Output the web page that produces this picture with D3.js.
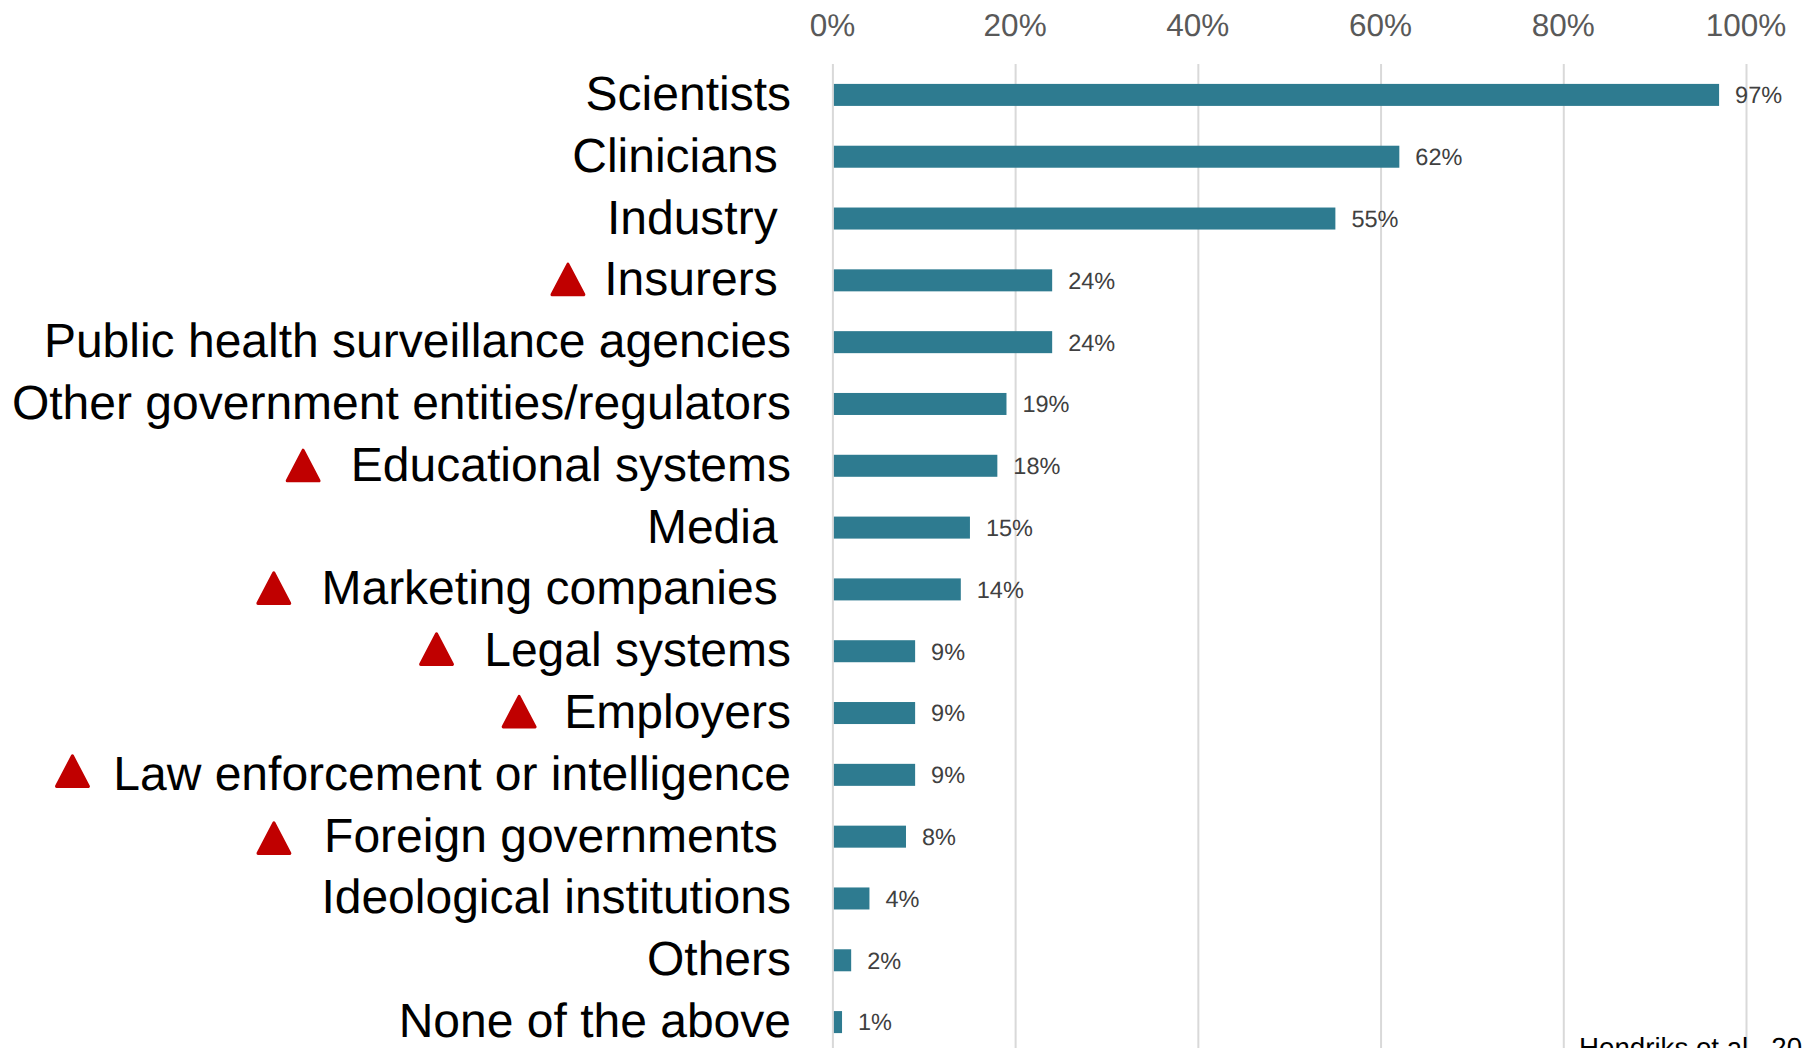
<!DOCTYPE html>
<html>
<head>
<meta charset="utf-8">
<script src="https://d3js.org/d3.v7.min.js"></script>
<style>
  html, body { margin: 0; padding: 0; background: #fff; overflow: hidden; }
  svg { display: block; font-family: "Liberation Sans", Arial, sans-serif; text-rendering: geometricPrecision; }
  text { white-space: pre; }
</style>
</head>
<body>
<svg id="chart" width="1804" height="1048"></svg>
<script>
// Survey answers: who respondents would share data with. Spaces in a label are part of its text.
const categories = [
  "Scientists", "Clinicians ", "Industry ", " Insurers ",
  "Public health surveillance agencies", "Other government entities/regulators",
  "  Educational systems", "Media ", "  Marketing companies ", "  Legal systems",
  "  Employers", " Law enforcement or intelligence", "  Foreign governments ",
  "Ideological institutions", "Others", "None of the above"
];
const shares = [97, 62, 55, 24, 24, 19, 18, 15, 14, 9, 9, 9, 8, 4, 2, 1];
const flagged = [
  " Insurers ", "  Educational systems", "  Marketing companies ", "  Legal systems",
  "  Employers", " Law enforcement or intelligence", "  Foreign governments "
];
const axisTicks = [0, 20, 40, 60, 80, 100];
const sourceNote = "Hendriks et al., 2019";

const svg = d3.select("#chart");

const x = d3.scaleLinear().domain([0, 100]).range([832.9, 1746.5]);
const y = d3.scaleBand().domain(categories).range([64, 1053])
  .paddingInner(0.644).paddingOuter(0.322);

// Vertical gridlines run the full height below the axis labels.
svg.append("g").selectAll("line").data(axisTicks).join("line")
  .attr("x1", d => x(d)).attr("x2", d => x(d))
  .attr("y1", 64).attr("y2", 1048)
  .attr("stroke", "#d9d9d9").attr("stroke-width", 2);

// Percent axis along the top; only its labels are visible.
const axis = svg.append("g").attr("transform", "translate(-1,36)")
  .call(d3.axisTop(x).tickValues(axisTicks).tickFormat(d => d + "%").tickSize(0).tickPadding(0));
axis.select(".domain").remove();
axis.selectAll("text")
  .attr("fill", "#595959").attr("font-size", 31.5)
  .attr("font-family", "'Liberation Sans', Arial, sans-serif")
  .attr("dy", 0).attr("y", 0);

// Bars
svg.append("g").selectAll("rect").data(categories).join("rect")
  .attr("x", x(0) + 1)
  .attr("y", d => y(d))
  .attr("width", (d, i) => x(shares[i]) - x(0) - 1)
  .attr("height", y.bandwidth())
  .attr("fill", "#2e7b90");

// Value labels to the right of each bar
svg.append("g").selectAll("text").data(categories).join("text")
  .attr("x", (d, i) => x(shares[i]) + 16)
  .attr("y", d => y(d) + y.bandwidth() / 2 + 8.4)
  .attr("font-size", 23.5)
  .attr("fill", "#404040")
  .text((d, i) => shares[i] + "%");

// Category labels, right-aligned; leading spaces leave room for the warning triangle
const labels = svg.append("g").selectAll("text").data(categories).join("text")
  .attr("x", 791)
  .attr("y", d => y(d) + y.bandwidth() / 2 + 15)
  .attr("text-anchor", "end")
  .attr("font-size", 48)
  .attr("fill", "#000")
  .text(d => d);

// Red triangles sit just ahead of the flagged labels, slightly taller than equilateral.
// Hand-placed in the slide, so each keeps its own small nudge.
const triangleNudgeX = [-1, 1, 1, 1, 3.5, -5.5, -1.5];
const triangleNudgeY = [4.2, 4.8, 3.7, 2.9, 3.7, 1.3, 6.5];
const triangle = d3.symbol().type(d3.symbolTriangle).size(440);
labels.filter(d => flagged.includes(d)).each(function (d) {
  const start = 791 - this.getComputedTextLength();
  const k = flagged.indexOf(d);
  svg.append("path")
    .attr("d", triangle())
    .attr("transform", `translate(${start - 22 + triangleNudgeX[k]},${y(d) + y.bandwidth() / 2 + triangleNudgeY[k]}) scale(1,1.1)`)
    .attr("fill", "#c00000")
    .attr("stroke", "#c00000")
    .attr("stroke-width", 3)
    .attr("stroke-linejoin", "round");
});

// Source note, running off the lower right corner
svg.append("text")
  .attr("x", 1579).attr("y", 1057)
  .attr("font-size", 27.7)
  .attr("fill", "#000")
  .text(sourceNote);
</script>
</body>
</html>
